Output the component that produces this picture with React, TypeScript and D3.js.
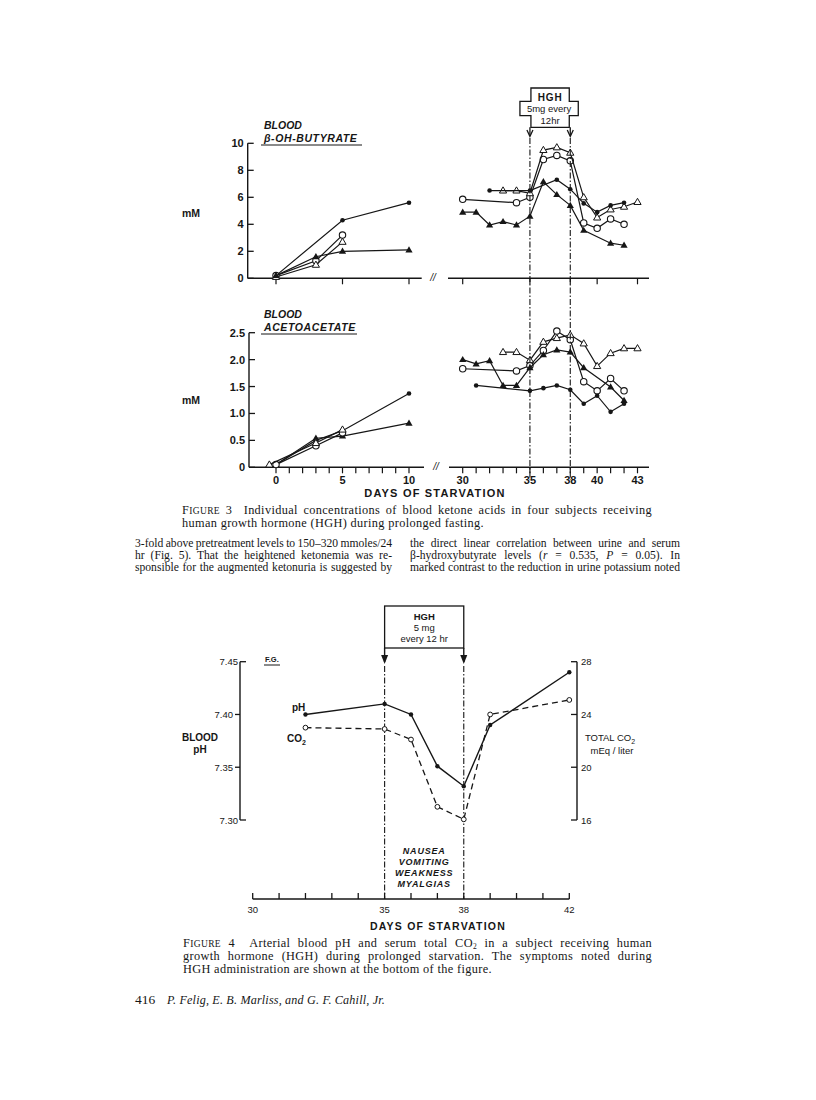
import React, { useRef, useState, useLayoutEffect } from "react";
import * as d3 from "d3";

// ---- Figure 3: blood beta-OH-butyrate (mM), four subjects ----
const bohDotDaysL = [0, 5, 10];
const bohDotL = [0.2, 4.3, 5.6];
const bohCircDaysL = [0, 3, 5];
const bohCircL = [0.2, 1.3, 3.2];
const bohOtriDaysL = [0, 3, 5];
const bohOtriL = [0.1, 1.0, 2.7];
const bohTriDaysL = [0, 3, 5, 10];
const bohTriL = [0.2, 1.6, 2.0, 2.1];

const bohCircDaysR = [30, 34, 35, 36, 37, 38, 39, 40, 41, 42];
const bohCircR = [5.85, 5.6, 6.0, 8.8, 9.1, 8.7, 4.1, 3.7, 4.4, 4.0];
const bohOtriDaysR = [33, 34, 35, 36, 37, 38, 39, 40, 41, 42, 43];
const bohOtriR = [6.5, 6.5, 6.3, 9.5, 9.7, 9.3, 6.0, 4.5, 5.1, 5.3, 5.65];
const bohDotDaysR = [32, 35, 37, 38, 39, 40, 41, 42];
const bohDotR = [6.5, 6.5, 7.3, 6.6, 5.55, 4.9, 5.4, 5.6];
const bohTriDaysR = [30, 31, 32, 33, 34, 35, 36, 37, 38, 39, 41, 42];
const bohTriR = [4.9, 4.9, 3.95, 4.2, 3.95, 4.6, 7.15, 6.2, 5.4, 3.55, 2.6, 2.45];

// ---- Figure 3: blood acetoacetate (mM) ----
const acaDotDaysL = [0, 3, 5, 10];
const acaDotL = [0.05, 0.5, 0.68, 1.37];
const acaTriDaysL = [0, 3, 5, 10];
const acaTriL = [0.05, 0.54, 0.58, 0.82];
const acaCircDaysL = [0, 3, 5];
const acaCircL = [0.05, 0.4, 0.64];
const acaOtriDaysL = [-0.5, 3, 5];
const acaOtriL = [0.05, 0.45, 0.7];

const acaCircDaysR = [30, 34, 35, 36, 37, 38, 39, 40, 41, 42];
const acaCircR = [1.83, 1.79, 1.89, 2.17, 2.53, 2.37, 1.59, 1.42, 1.65, 1.42];
const acaOtriDaysR = [33, 34, 35, 36, 37, 38, 39, 40, 41, 42, 43];
const acaOtriR = [2.14, 2.14, 1.99, 2.33, 2.4, 2.46, 2.3, 1.88, 2.12, 2.21, 2.21];
const acaTriDaysR = [30, 31, 32, 33, 34, 35, 36, 37, 38, 39, 41, 42];
const acaTriR = [2.0, 1.92, 1.98, 1.52, 1.52, 1.85, 2.09, 2.18, 2.14, 1.85, 1.49, 1.24];
const acaDotDaysR = [31, 35, 36, 37, 38, 39, 40, 41, 42];
const acaDotR = [1.52, 1.42, 1.47, 1.52, 1.44, 1.18, 1.33, 1.03, 1.18];

const bohTicks = [0, 2, 4, 6, 8, 10];
const acaTicks = [0, 0.5, 1.0, 1.5, 2.0, 2.5];
const acaTickLabels = ["0", "0.5", "1.0", "1.5", "2.0", "2.5"];
const daysLeftLabels = [0, 5, 10];
const daysRightLabels = [30, 35, 38, 40, 43];

// ---- Figure 4: arterial pH and total CO2, one subject ----
const f4Days = [32, 35, 36, 37, 38, 39, 42];
const f4pH = [7.4, 7.41, 7.4, 7.351, 7.332, 7.39, 7.44];
const f4CO2 = [23.0, 22.9, 22.1, 17.0, 16.05, 24.0, 25.1];
const phTicks = [7.3, 7.35, 7.4, 7.45];
const co2Ticks = [16, 20, 24, 28];
const f4DayLabels = [30, 35, 38, 42];
const symptoms = ["NAUSEA", "VOMITING", "WEAKNESS", "MYALGIAS"];

const INK = "#161616";
const SANS = "'Liberation Sans', Arial, sans-serif";
const SERIF = "'Liberation Serif', 'Times New Roman', serif";

const xL = d3.scaleLinear().domain([0, 10]).range([276, 409]);
const xR = d3.scaleLinear().domain([30, 43]).range([462.7, 637.5]);
const yBoh = d3.scaleLinear().domain([0, 10]).range([278.3, 143.3]);
const yAca = d3.scaleLinear().domain([0, 2.5]).range([467.3, 332.7]);

const x4 = d3.scaleLinear().domain([30, 42]).range([252.7, 569.3]);
const yPH = d3.scaleLinear().domain([7.3, 7.45]).range([820, 661.7]);
const yCO2 = d3.scaleLinear().domain([16, 28]).range([820, 661.7]);

function Marker({ kind, x, y, s = 1 }) {
  if (kind === "dot") return <circle cx={x} cy={y} r={2.3 * s} fill={INK} />;
  if (kind === "circ")
    return <circle cx={x} cy={y} r={3.2 * s} fill="#fff" stroke={INK} strokeWidth={1.1} />;
  const h = 6.2 * s;
  const w = 3.6 * s;
  const p = `M${x},${y - h * 0.6}L${x + w},${y + h * 0.4}L${x - w},${y + h * 0.4}Z`;
  if (kind === "tri") return <path d={p} fill={INK} />;
  return <path d={p} fill="#fff" stroke={INK} strokeWidth={1} />;
}

function Series({ kind, days, vals, x, y }) {
  const pts = days.map((d, i) => [x(d), y(vals[i])]);
  const line = d3.line();
  return (
    <g>
      <path d={line(pts)} fill="none" stroke={INK} strokeWidth={1.2} />
      {pts.map((p, i) => (
        <Marker key={i} kind={kind} x={p[0]} y={p[1]} />
      ))}
    </g>
  );
}

// justified line: measures itself and spreads the gap over the word spaces
function Justified({ x, y, width, size = 12.5, ls = 0, children }) {
  const ref = useRef(null);
  const [ws, setWs] = useState(0);
  const [squeeze, setSqueeze] = useState(false);
  useLayoutEffect(() => {
    const el = ref.current;
    if (!el) return;
    const len = el.getComputedTextLength();
    const n = (el.textContent.match(/ /g) || []).length;
    let w = n ? (width - len) / n : 0;
    if (w < -1) {
      w = -1;
      setSqueeze(true);
    }
    setWs(w);
  }, [width]);
  return (
    <text
      ref={ref}
      x={x}
      y={y}
      wordSpacing={ws}
      letterSpacing={ls}
      textLength={squeeze ? width : undefined}
      lengthAdjust="spacingAndGlyphs"
      fontFamily={SERIF}
      fontSize={size}
      fill={INK}
      style={{ whiteSpace: "pre" }}
    >
      {children}
    </text>
  );
}

function Fig3Panel({ y, ticks, tickLabels, axisX, axisEndL, slashX, startR, left, right, title, titleY, labelY, xLabels, allTicks }) {
  const y0 = y(0);
  const yTop = y(ticks[ticks.length - 1]);
  const leftTickDays = allTicks ? d3.range(0, 11) : daysLeftLabels;
  const rightTickDays = allTicks ? d3.range(30, 44) : daysRightLabels;
  return (
    <g>
      {/* y axis */}
      <line x1={axisX} x2={axisX} y1={yTop} y2={y0} stroke={INK} strokeWidth={1.4} />
      {ticks.map((t, i) => (
        <g key={i}>
          <line x1={axisX} x2={axisX + 6} y1={y(t)} y2={y(t)} stroke={INK} strokeWidth={1.3} />
          <text x={axisX - 4} y={y(t) + 4} textAnchor="end" fontFamily={SANS} fontWeight="bold" fontSize={11} fill={INK}>
            {tickLabels[i]}
          </text>
        </g>
      ))}
      {/* broken x axis */}
      <line x1={axisX} x2={axisEndL} y1={y0} y2={y0} stroke={INK} strokeWidth={1.4} />
      <text x={slashX} y={y0 + 3} textAnchor="middle" fontFamily={SANS} fontStyle="italic" fontSize={10} fill={INK}>//</text>
      <line x1={startR} x2={649} y1={y0} y2={y0} stroke={INK} strokeWidth={1.4} />
      {leftTickDays.map((d) => (
        <line key={"l" + d} x1={xL(d)} x2={xL(d)} y1={y0} y2={y0 + 6} stroke={INK} strokeWidth={1.2} />
      ))}
      {rightTickDays.map((d) => (
        <line key={"r" + d} x1={xR(d)} x2={xR(d)} y1={y0} y2={y0 + 6} stroke={INK} strokeWidth={1.2} />
      ))}
      {xLabels && (
        <g fontFamily={SANS} fontWeight="bold" fontSize={11} fill={INK} textAnchor="middle">
          {daysLeftLabels.map((d) => (
            <text key={d} x={xL(d)} y={y0 + 17}>{d}</text>
          ))}
          {daysRightLabels.map((d) => (
            <text key={d} x={xR(d)} y={y0 + 17}>{d}</text>
          ))}
        </g>
      )}
      {/* titles */}
      <g fontFamily={SANS} fontWeight="bold" fontStyle="italic" fontSize={10.5} fill={INK}>
        <text x={264} y={titleY}>BLOOD</text>
        <text x={264} y={titleY + 12.5} letterSpacing={0.6}>{title}</text>
      </g>
      <line x1={261} x2={title.length > 12 ? 362 : 357} y1={titleY + 16} y2={titleY + 16} stroke={INK} strokeWidth={1.2} />
      <text x={182} y={labelY} fontFamily={SANS} fontWeight="bold" fontSize={10.5} fill={INK}>mM</text>
      {left.map((s, i) => (
        <Series key={"L" + i} kind={s.kind} days={s.days} vals={s.vals} x={xL} y={y} />
      ))}
      {right.map((s, i) => (
        <Series key={"R" + i} kind={s.kind} days={s.days} vals={s.vals} x={xR} y={y} />
      ))}
    </g>
  );
}

export default function App() {
  const a = xR(35);
  const b = xR(38);
  // cross-shaped HGH box of Figure 3
  const box3 = `M${a + 1},88H${b - 1}V101.3H${b + 8}V115.7H${b - 1}V127.3H${a + 1}V115.7H${a - 10}V101.3H${a + 1}Z`;
  const f4a = x4(35);
  const f4b = x4(38);
  const line4 = d3.line();
  const phPts = f4Days.map((d, i) => [x4(d), yPH(f4pH[i])]);
  const co2Pts = f4Days.map((d, i) => [x4(d), yCO2(f4CO2[i])]);

  return (
    <div style={{ position: "absolute", left: 0, top: 0 }}>
      <svg width={816} height={1100} viewBox="0 0 816 1100" style={{ display: "block", background: "#fff" }}>
        <rect width={816} height={1100} fill="#fff" />

        {/* ===== Figure 3 ===== */}
        <Fig3Panel
          y={yBoh}
          ticks={bohTicks}
          tickLabels={bohTicks.map(String)}
          axisX={247.7}
          axisEndL={421.7}
          slashX={433}
          startR={448}
          title="β-OH-BUTYRATE"
          titleY={129}
          labelY={217}
          xLabels={false}
          allTicks={false}
          left={[
            { kind: "dot", days: bohDotDaysL, vals: bohDotL },
            { kind: "circ", days: bohCircDaysL, vals: bohCircL },
            { kind: "otri", days: bohOtriDaysL, vals: bohOtriL },
            { kind: "tri", days: bohTriDaysL, vals: bohTriL },
          ]}
          right={[
            { kind: "circ", days: bohCircDaysR, vals: bohCircR },
            { kind: "otri", days: bohOtriDaysR, vals: bohOtriR },
            { kind: "dot", days: bohDotDaysR, vals: bohDotR },
            { kind: "tri", days: bohTriDaysR, vals: bohTriR },
          ]}
        />
        <Fig3Panel
          y={yAca}
          ticks={acaTicks}
          tickLabels={acaTickLabels}
          axisX={249}
          axisEndL={424}
          slashX={436}
          startR={449}
          title="ACETOACETATE"
          titleY={318}
          labelY={404}
          xLabels={true}
          allTicks={true}
          left={[
            { kind: "dot", days: acaDotDaysL, vals: acaDotL },
            { kind: "tri", days: acaTriDaysL, vals: acaTriL },
            { kind: "circ", days: acaCircDaysL, vals: acaCircL },
            { kind: "otri", days: acaOtriDaysL, vals: acaOtriL },
          ]}
          right={[
            { kind: "circ", days: acaCircDaysR, vals: acaCircR },
            { kind: "otri", days: acaOtriDaysR, vals: acaOtriR },
            { kind: "tri", days: acaTriDaysR, vals: acaTriR },
            { kind: "dot", days: acaDotDaysR, vals: acaDotR },
          ]}
        />
        {/* HGH box + dash-dot lines */}
        <path d={box3} fill="#fff" stroke={INK} strokeWidth={1.3} />
        <g fontFamily={SANS} fill={INK} textAnchor="middle">
          <text x={(a + b) / 2} y={100.5} fontSize={10} fontWeight="bold" letterSpacing={0.8}>HGH</text>
          <text x={(a + b) / 2 - 1} y={112.3} fontSize={9.5}>5mg every</text>
          <text x={(a + b) / 2} y={124} fontSize={9.5}>12hr</text>
        </g>
        {[a, b].map((x, i) => (
          <g key={i}>
            <line x1={x} x2={x} y1={127.3} y2={135} stroke={INK} strokeWidth={1.3} />
            <path d={`M${x - 3},130L${x},136.5L${x + 3},130`} fill="none" stroke={INK} strokeWidth={1.3} />
            <line x1={x} x2={x} y1={138} y2={480} stroke={INK} strokeWidth={1.1} strokeDasharray="6,2,1.5,2" />
          </g>
        ))}
        <text x={435} y={497} textAnchor="middle" fontFamily={SANS} fontWeight="bold" fontSize={11} letterSpacing={1.2} fill={INK}>
          DAYS OF STARVATION
        </text>

        {/* Figure 3 caption */}
        <Justified x={182} y={514} width={470} size={12.3} ls={0.35}>
          F<tspan fontSize={9.5}>IGURE</tspan> 3  Individual concentrations of blood ketone acids in four subjects receiving
        </Justified>
        <text x={182} y={527} fontFamily={SERIF} fontSize={12.3} letterSpacing={0.35} fill={INK}>
          human growth hormone (HGH) during prolonged fasting.
        </text>

        {/* body text */}
        <Justified x={135} y={547} width={257} size={11.6}>3-fold above pretreatment levels to 150–320 mmoles/24</Justified>
        <Justified x={135} y={559} width={257} size={11.6}>hr (Fig. 5). That the heightened ketonemia was re-</Justified>
        <Justified x={135} y={571} width={257} size={11.6}>sponsible for the augmented ketonuria is suggested by</Justified>
        <Justified x={410} y={547} width={270} size={11.6}>the direct linear correlation between urine and serum</Justified>
        <Justified x={410} y={559} width={270} size={11.6}>
          β-hydroxybutyrate levels (<tspan fontStyle="italic">r</tspan> = 0.535, <tspan fontStyle="italic">P</tspan> = 0.05). In
        </Justified>
        <Justified x={410} y={571} width={270} size={11.6}>marked contrast to the reduction in urine potassium noted</Justified>

        {/* ===== Figure 4 ===== */}
        <rect x={f4a} y={606} width={f4b - f4a} height={42} fill="#fff" stroke={INK} strokeWidth={1.3} />
        <g fontFamily={SANS} fill={INK} textAnchor="middle" fontSize={9.5}>
          <text x={(f4a + f4b) / 2} y={620} fontWeight="bold">HGH</text>
          <text x={(f4a + f4b) / 2} y={631}>5 mg</text>
          <text x={(f4a + f4b) / 2} y={642}>every 12 hr</text>
        </g>
        {[f4a, f4b].map((x, i) => (
          <g key={i}>
            <line x1={x} x2={x} y1={648} y2={662} stroke={INK} strokeWidth={1.4} />
            <path d={`M${x - 3.5},655L${x},664L${x + 3.5},655Z`} fill={INK} />
            <line x1={x} x2={x} y1={666} y2={899} stroke={INK} strokeWidth={1.1} strokeDasharray="6,2,1.5,2" />
          </g>
        ))}
        {/* left axis (pH) */}
        <line x1={240} x2={240} y1={yPH(7.45)} y2={yPH(7.3)} stroke={INK} strokeWidth={1.4} />
        {phTicks.map((t, i) => {
          const cap = i === 0 || i === phTicks.length - 1;
          return (
            <g key={t}>
              <line x1={cap ? 240 : 235} x2={cap ? 246 : 240} y1={yPH(t)} y2={yPH(t)} stroke={INK} strokeWidth={1.3} />
              <text x={cap ? 238 : 233} y={yPH(t) + 3.5} textAnchor="end" fontFamily={SANS} fontSize={9.5} fill={INK}>
                {t.toFixed(2)}
              </text>
            </g>
          );
        })}
        {/* right axis (CO2) */}
        <line x1={577} x2={577} y1={yCO2(28)} y2={yCO2(16)} stroke={INK} strokeWidth={1.4} />
        {co2Ticks.map((t) => (
          <g key={t}>
            <line x1={571} x2={577} y1={yCO2(t)} y2={yCO2(t)} stroke={INK} strokeWidth={1.3} />
            <text x={581} y={yCO2(t) + 3.5} fontFamily={SANS} fontSize={9.5} fill={INK}>{t}</text>
          </g>
        ))}
        {/* x axis */}
        <line x1={x4(30)} x2={x4(42)} y1={899} y2={899} stroke={INK} strokeWidth={1.4} />
        {d3.range(30, 43).map((d) => (
          <line key={d} x1={x4(d)} x2={x4(d)} y1={899} y2={893} stroke={INK} strokeWidth={1.3} />
        ))}
        {f4DayLabels.map((d) => (
          <text key={d} x={x4(d)} y={913} textAnchor="middle" fontFamily={SANS} fontSize={9.5} fill={INK}>{d}</text>
        ))}
        <text x={438} y={930} textAnchor="middle" fontFamily={SANS} fontWeight="bold" fontSize={10.5} letterSpacing={1.2} fill={INK}>
          DAYS OF STARVATION
        </text>
        {/* labels */}
        <text x={265} y={662} fontFamily={SANS} fontWeight="bold" fontSize={7.5} fill={INK}>F.G.</text>
        <line x1={264} x2={280} y1={665} y2={665} stroke={INK} strokeWidth={1} />
        <g fontFamily={SANS} fontWeight="bold" fontSize={10} fill={INK}>
          <text x={292} y={711}>pH</text>
          <text x={287} y={742}>CO<tspan fontSize={7} dy={3}>2</tspan></text>
          <text x={200} y={741} textAnchor="middle">BLOOD</text>
          <text x={200} y={753} textAnchor="middle">pH</text>
        </g>
        <g fontFamily={SANS} fontSize={9.5} fill={INK} textAnchor="middle">
          <text x={610} y={741}>TOTAL CO<tspan fontSize={7} dy={3}>2</tspan></text>
          <text x={612} y={754}>mEq / liter</text>
        </g>
        {symptoms.map((s, i) => (
          <text key={s} x={(f4a + f4b) / 2} y={854 + i * 11} textAnchor="middle" fontFamily={SANS} fontWeight="bold" fontStyle="italic" fontSize={9} letterSpacing={0.8} fill={INK}>
            {s}
          </text>
        ))}
        {/* series */}
        <path d={line4(co2Pts)} fill="none" stroke={INK} strokeWidth={1.3} strokeDasharray="6,4" />
        <path d={line4(phPts)} fill="none" stroke={INK} strokeWidth={1.4} />
        {co2Pts.map((p, i) => (
          <circle key={i} cx={p[0]} cy={p[1]} r={2.4} fill="#fff" stroke={INK} strokeWidth={1} />
        ))}
        {phPts.map((p, i) => (
          <circle key={i} cx={p[0]} cy={p[1]} r={2.2} fill={INK} />
        ))}

        {/* Figure 4 caption */}
        <Justified x={183} y={947} width={469} size={12.3} ls={0.35}>
          F<tspan fontSize={9.5}>IGURE</tspan> 4  Arterial blood pH and serum total CO<tspan fontSize={7.5} dy={1.5}>2</tspan><tspan dy={-1.5}> in a subject receiving human</tspan>
        </Justified>
        <Justified x={183} y={960} width={469} size={12.3} ls={0.35}>growth hormone (HGH) during prolonged starvation. The symptoms noted during</Justified>
        <text x={183} y={973} fontFamily={SERIF} fontSize={12.3} letterSpacing={0.35} fill={INK}>
          HGH administration are shown at the bottom of the figure.
        </text>

        {/* footer */}
        <text x={135} y={1004} fontFamily={SERIF} fontSize={13.5} fill={INK}>416</text>
        <text x={167} y={1004} fontFamily={SERIF} fontStyle="italic" fontSize={13} letterSpacing={0.2} textLength={218} lengthAdjust="spacingAndGlyphs" fill={INK}>
          P. Felig, E. B. Marliss, and G. F. Cahill, Jr.
        </text>
      </svg>
    </div>
  );
}
